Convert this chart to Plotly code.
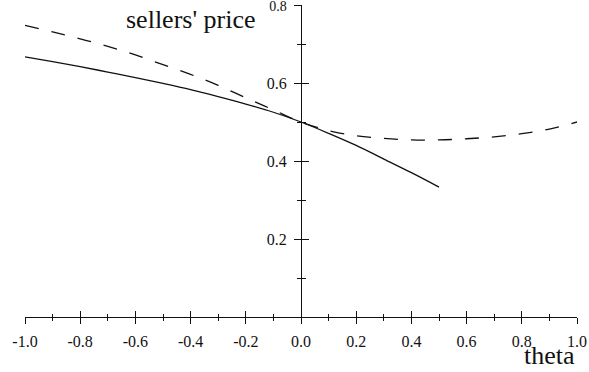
import plotly.graph_objects as go

# Sellers' price as a function of theta
theta_solid = [-1.0, -0.9, -0.8, -0.7, -0.6, -0.5, -0.4, -0.3, -0.2, -0.1,
               0.0, 0.1, 0.2, 0.3, 0.4, 0.5]
price_solid = [0.667, 0.655, 0.642, 0.628, 0.614, 0.599, 0.583, 0.565, 0.546, 0.525,
               0.500, 0.471, 0.440, 0.405, 0.370, 0.333]

theta_dashed = [-1.0, -0.9, -0.8, -0.7, -0.6, -0.5, -0.4, -0.3, -0.2, -0.1,
                0.0, 0.1, 0.2, 0.3, 0.4, 0.5, 0.6, 0.7, 0.8, 0.9, 1.0]
price_dashed = [0.748, 0.731, 0.713, 0.694, 0.672, 0.647, 0.622, 0.594, 0.562, 0.531,
                0.500, 0.478, 0.465, 0.458, 0.454, 0.454, 0.457, 0.462, 0.470, 0.482, 0.500]

x_major = [-1.0, -0.8, -0.6, -0.4, -0.2, 0.0, 0.2, 0.4, 0.6, 0.8, 1.0]
x_labels = ["-1.0", "-0.8", "-0.6", "-0.4", "-0.2", "0.0", "0.2", "0.4", "0.6", "0.8", "1.0"]
x_minor = [-0.9, -0.7, -0.5, -0.3, -0.1, 0.1, 0.3, 0.5, 0.7, 0.9]
y_major = [0.2, 0.4, 0.6, 0.8]
# the topmost label sits against the frame edge, so it is set a little smaller
y_labels = ["0.2", "0.4", "0.6", "<span style='font-size:14px'>0.8</span>"]
y_minor = [0.1, 0.3, 0.5, 0.7]

INK = "#111111"
SERIF = "Liberation Serif, Times New Roman, serif"

fig = go.Figure()
fig.add_trace(go.Scatter(x=theta_solid, y=price_solid, mode="lines",
                         line=dict(color=INK, width=1.3, shape="spline"),
                         showlegend=False, hoverinfo="skip"))
fig.add_trace(go.Scatter(x=theta_dashed, y=price_dashed, mode="lines",
                         line=dict(color=INK, width=1.3, shape="spline", dash="14px,13px"),
                         showlegend=False, hoverinfo="skip"))
# carrier trace for the overlay axes (ticks on the opposite side)
fig.add_trace(go.Scatter(x=[0], y=[0], xaxis="x2", yaxis="y2", mode="markers",
                         marker=dict(opacity=0), showlegend=False, hoverinfo="skip"))

tick_font = dict(family=SERIF, size=16, color=INK)

fig.update_layout(
    width=589, height=372,
    margin=dict(l=25, r=12, t=5, b=55),
    paper_bgcolor="white", plot_bgcolor="white",
    xaxis=dict(range=[-1, 1], domain=[0, 1], showgrid=False, zeroline=False,
               automargin=False,
               showline=True, linecolor=INK, linewidth=1.2,
               tickmode="array", tickvals=x_major, ticktext=x_labels,
               ticks="outside", ticklen=6, tickwidth=1.2, tickcolor=INK,
               minor=dict(tickvals=x_minor, ticks="outside", ticklen=3,
                          tickwidth=1.2, tickcolor=INK, showgrid=False),
               tickfont=tick_font, ticklabelstandoff=4),
    yaxis=dict(range=[0, 0.8], domain=[0, 1], showgrid=False, zeroline=False,
               anchor="free", position=0.5, automargin=False,
               showline=True, linecolor=INK, linewidth=1.2,
               tickmode="array", tickvals=y_major, ticktext=y_labels,
               ticks="outside", ticklen=7, tickwidth=1.2, tickcolor=INK,
               minor=dict(tickvals=y_minor, ticks="outside", ticklen=3.5,
                          tickwidth=1.2, tickcolor=INK, showgrid=False),
               tickfont=tick_font, ticklabelstandoff=4,
               ticklabeloverflow="allow"),
    xaxis2=dict(overlaying="x", matches="x", anchor="y", side="bottom",
                showgrid=False, zeroline=False, showline=False, automargin=False,
                tickmode="array", tickvals=x_major, showticklabels=False,
                ticks="inside", ticklen=6, tickwidth=1.2, tickcolor=INK,
                minor=dict(tickvals=x_minor, ticks="inside", ticklen=3,
                           tickwidth=1.2, tickcolor=INK, showgrid=False)),
    yaxis2=dict(overlaying="y", matches="y", anchor="free", position=0.5, side="left",
                showgrid=False, zeroline=False, showline=False, automargin=False,
                tickmode="array", tickvals=y_major, showticklabels=False,
                ticks="inside", ticklen=7, tickwidth=1.2, tickcolor=INK,
                minor=dict(tickvals=y_minor, ticks="inside", ticklen=3.5,
                           tickwidth=1.2, tickcolor=INK, showgrid=False)),
    annotations=[
        dict(text="sellers' price", xref="paper", yref="paper",
             x=0.422, y=0.952, xanchor="right", yanchor="middle", showarrow=False,
             font=dict(family=SERIF, size=26, color=INK)),
        dict(text="theta", xref="paper", yref="paper",
             x=1.0, y=-0.124, xanchor="right", yanchor="middle", showarrow=False,
             font=dict(family=SERIF, size=26, color=INK)),
    ],
)

fig.write_html("out.html")
